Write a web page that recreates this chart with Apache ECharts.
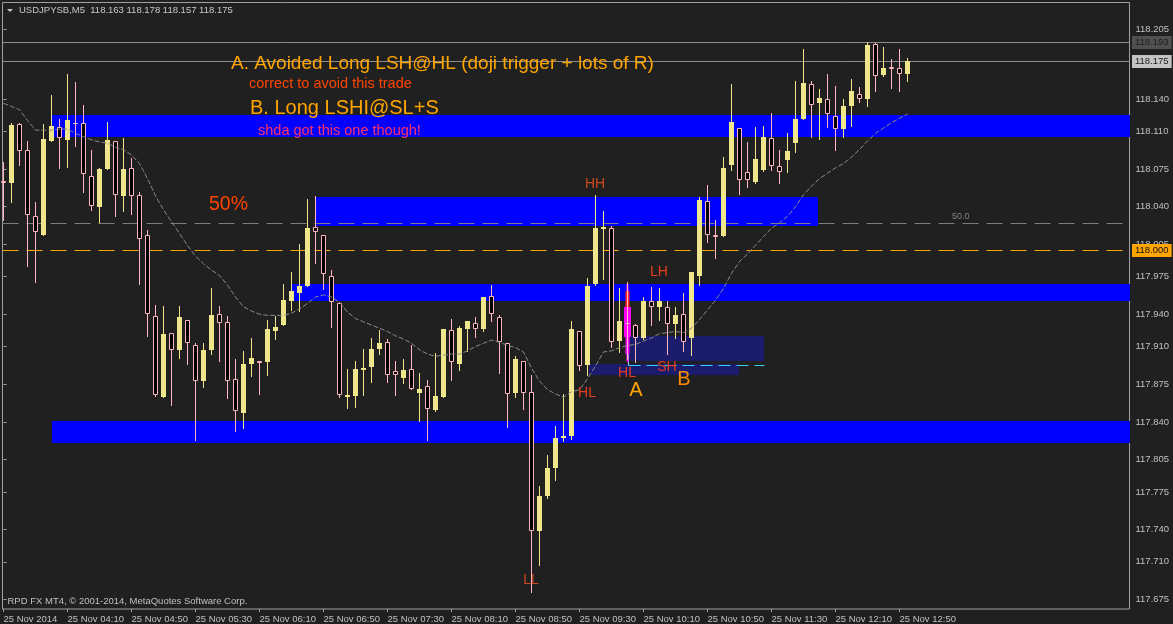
<!DOCTYPE html>
<html><head><meta charset="utf-8">
<script src="https://cdn.jsdelivr.net/npm/echarts@6/dist/echarts.min.js"></script>
<style>html,body{margin:0;padding:0;background:#202020;}#c{width:1173px;height:624px;}</style>
</head><body><div id="c"></div>
<script>
// ---------------- DATA ----------------
const symbolName = 'USDJPYSB,M5';
const copyright = 'RPD FX MT4, \u00a9 2001-2014, MetaQuotes Software Corp.';
// x tick positions (bar index) and their labels
const xTickBars = [0, 8, 16, 24, 32, 40, 48, 56, 64, 72, 80, 88, 96, 104, 112];
const timeLabels = ['25 Nov 2014', '25 Nov 04:10', '25 Nov 04:50', '25 Nov 05:30', '25 Nov 06:10',
  '25 Nov 06:50', '25 Nov 07:30', '25 Nov 08:10', '25 Nov 08:50', '25 Nov 09:30', '25 Nov 10:10',
  '25 Nov 10:50', '25 Nov 11:30', '25 Nov 12:10', '25 Nov 12:50'];
const yTicks = [117.675, 117.710, 117.740, 117.775, 117.805, 117.840, 117.875, 117.910, 117.940,
  117.975, 118.005, 118.040, 118.075, 118.110, 118.140, 118.175, 118.205];
// candles: [open, close, low, high], one per 5-minute bar
const ohlc = [
  [118.064,118.062,118.028,118.081],[118.062,118.116,118.044,118.118],[118.117,118.092,118.079,118.118],
  [118.093,118.032,117.985,118.101],[118.031,118.016,117.970,118.044],[118.014,118.103,118.014,118.117],
  [118.101,118.115,118.101,118.144],[118.114,118.104,118.076,118.121],[118.102,118.120,118.077,118.163],
  [118.118,118.117,118.096,118.156],[118.118,118.070,118.054,118.134],[118.068,118.041,118.037,118.093],
  [118.040,118.075,118.026,118.076],[118.075,118.102,118.075,118.119],[118.101,118.051,118.031,118.101],
  [118.050,118.075,118.036,118.104],[118.076,118.050,118.033,118.085],[118.051,118.010,117.968,118.054],
  [118.014,117.940,117.920,118.018],[117.938,117.865,117.864,117.949],[117.863,117.922,117.863,117.948],
  [117.923,117.907,117.856,117.923],[117.907,117.937,117.899,117.948],[117.935,117.913,117.894,117.935],
  [117.911,117.878,117.823,117.913],[117.878,117.907,117.872,117.913],[117.907,117.939,117.903,117.964],
  [117.940,117.932,117.897,117.948],[117.933,117.878,117.862,117.938],[117.880,117.850,117.832,117.898],
  [117.848,117.894,117.834,117.906],[117.894,117.899,117.883,117.918],[117.897,117.895,117.866,117.897],
  [117.896,117.926,117.884,117.935],[117.924,117.928,117.917,117.938],[117.930,117.953,117.930,117.968],
  [117.952,117.962,117.944,117.979],[117.960,117.966,117.943,118.005],[117.966,118.020,117.966,118.047],
  [118.021,118.016,117.988,118.050],[118.014,117.977,117.963,118.014],[117.976,117.951,117.928,117.981],
  [117.950,117.865,117.863,117.951],[117.863,117.865,117.853,117.889],[117.864,117.889,117.854,117.897],
  [117.888,117.890,117.865,117.908],[117.891,117.908,117.877,117.918],[117.908,117.913,117.903,117.925],
  [117.914,117.884,117.877,117.917],[117.887,117.884,117.865,117.897],[117.881,117.888,117.876,117.898],
  [117.889,117.871,117.871,117.911],[117.867,117.871,117.841,117.885],[117.873,117.852,117.823,117.879],
  [117.851,117.864,117.850,117.904],[117.863,117.926,117.863,117.926],[117.925,117.896,117.879,117.936],
  [117.894,117.927,117.888,117.929],[117.926,117.934,117.906,117.934],[117.932,117.926,117.919,117.937],
  [117.926,117.956,117.924,117.956],[117.957,117.940,117.934,117.967],[117.937,117.914,117.885,117.939],
  [117.913,117.866,117.835,117.913],[117.867,117.898,117.863,117.901],[117.897,117.867,117.852,117.897],
  [117.868,117.739,117.682,117.884],[117.739,117.771,117.707,117.780],[117.771,117.797,117.769,117.809],
  [117.797,117.825,117.786,117.836],[117.825,117.827,117.822,117.866],[117.827,117.926,117.824,117.934],
  [117.924,117.892,117.888,117.924],[117.893,117.966,117.884,117.974],[117.968,118.020,117.967,118.051],
  [118.019,118.021,117.973,118.036],[118.020,117.914,117.910,118.022],[117.915,117.934,117.905,117.964],
  [117.932,117.931,117.898,117.970],[117.930,117.918,117.896,117.931],[117.918,117.952,117.917,117.956],
  [117.952,117.947,117.930,117.965],[117.947,117.952,117.935,117.964],[117.947,117.931,117.903,117.952],
  [117.931,117.939,117.918,117.947],[117.940,117.914,117.906,117.960],[117.918,117.979,117.902,117.979],
  [117.976,118.046,117.967,118.049],[118.045,118.014,118.007,118.060],[118.014,118.012,117.992,118.028],
  [118.013,118.076,118.013,118.086],[118.079,118.119,118.074,118.154],[118.113,118.065,118.052,118.113],
  [118.072,118.065,118.058,118.100],[118.063,118.084,118.062,118.114],[118.074,118.105,118.073,118.115],
  [118.104,118.078,118.074,118.127],[118.078,118.072,118.062,118.093],[118.083,118.092,118.072,118.108],
  [118.099,118.121,118.091,118.157],[118.121,118.155,118.121,118.186],[118.154,118.134,118.105,118.157],
  [118.136,118.141,118.103,118.149],[118.140,118.126,118.114,118.163],[118.124,118.112,118.093,118.152],
  [118.112,118.133,118.105,118.140],[118.133,118.147,118.115,118.159],[118.145,118.140,118.137,118.151],
  [118.140,118.190,118.133,118.193],[118.191,118.161,118.147,118.192],[118.162,118.169,118.161,118.188],
  [118.170,118.168,118.150,118.177],[118.169,118.163,118.147,118.186],[118.163,118.175,118.157,118.178]
];
// moving average, one value per bar
const ma = [
  118.136,118.133,118.130,118.120,118.111,118.111,118.111,118.112,118.112,118.108,
  118.105,118.102,118.100,118.099,118.095,118.093,118.088,118.080,118.066,118.050,
  118.037,118.026,118.015,118.004,117.994,117.987,117.981,117.976,117.967,117.956,
  117.947,117.943,117.940,117.939,117.939,117.939,117.941,117.945,117.950,117.956,
  117.958,117.956,117.951,117.942,117.936,117.933,117.930,117.927,117.924,117.920,
  117.917,117.913,117.907,117.903,117.901,117.902,117.903,117.903,117.906,117.910,
  117.913,117.916,117.914,117.911,117.909,117.905,117.890,117.878,117.870,117.866,
  117.863,117.868,117.870,117.880,117.892,117.905,117.906,117.909,117.911,117.912,
  117.915,117.918,117.922,117.923,117.924,117.923,117.927,117.935,117.944,117.953,
  117.964,117.978,117.989,117.996,118.004,118.012,118.020,118.025,118.031,118.040,
  118.051,118.059,118.066,118.071,118.076,118.080,118.086,118.093,118.101,118.108,
  118.113,118.118,118.122,118.126
];
// zones: [fromBar, toBar ('end' = right edge), priceTop, priceBottom, kind]
const zones = [
  [6, 'end', 118.125, 118.105, 'band'],
  [39, 101.8, 118.049, 118.022, 'band'],
  [36, 'end', 117.968, 117.952, 'band'],
  [6, 'end', 117.8405, 117.820, 'band'],
  [78, 95, 117.920, 117.897, 'box'],
  [73.2, 91.9, 117.894, 117.884, 'box']
];
// level lines across the chart: [price, kind]
const levels = [[118.025, 'fib'], [118.000, 'round'], [118.193, 'high'], [118.175, 'bid']];
// trend segments: [bar1, price1, bar2, price2]
const segments = [[78, 117.893, 95, 117.893], [78, 117.920, 78, 117.893]];
// doji trigger highlight on bar 78: [bar, priceTop, priceBottom, part]
const highlight = [[78, 117.968, 117.896, 'thin'], [78, 117.962, 117.947, 'red'], [78, 117.947, 117.919, 'wide'], [78, 117.919, 117.903, 'mid']];
// price tags on the right axis
const priceTags = [[118.193, 'high'], [118.175, 'bid'], [118.000, 'round']];
// annotations: text and anchor [bar, price]
const annotationText = ['A. Avoided Long LSH@HL (doji trigger + lots of R)', 'correct to avoid this trade',
  'B. Long LSHI@SL+S', 'shda got this one though!', '50%', 'HH', 'LL', 'HL', 'HL', 'LH', 'SH', 'A', 'B', '50.0'];
const annotationAnchor = [[28.44, 118.1728], [30.73, 118.1538], [30.81, 118.1319], [31.77, 118.1102],
  [25.69, 118.0416], [73.94, 118.0607], [65.9, 117.693], [72.94, 117.8667], [77.94, 117.8852],
  [81.94, 117.9794], [82.94, 117.8908], [79.0, 117.8694], [85.0, 117.8801], [118.6, 118.0304]];

// ---------------- STYLE ----------------
const FONT = '"Liberation Sans", Arial, sans-serif';
const X_MIN = -0.125, X_MAX = 140.75;
const Y_MIN = 117.6662, Y_MAX = 118.2296;
const BULL = '#F0E68C', BEAR = '#FFB6C1';
const zoneFill = { band: '#0000FF', box: '#1c1c6c' };
const levelStyle = {
  fib: { stroke: '#7c7c7c', dash: [16, 8] },
  round: { stroke: '#FFA500', dash: [16, 8] },
  high: { stroke: '#8c8c8c', dash: null },
  bid: { stroke: '#8c8c8c', dash: null }
};
const segStyle = [{ stroke: '#38d0ec', dash: [12, 6] }, { stroke: '#90d8e8', dash: null }];
const hlStyle = { thin: ['#FF00FF', 2], red: ['#FF2424', 4], wide: ['#FF00FF', 7], mid: ['#FF00FF', 4] };
const tagStyle = {
  high: { bg: '#505050', fg: '#1c1c1c' },
  bid: { bg: '#c4c4c4', fg: '#202020' },
  round: { bg: '#FFA500', fg: '#101010' }
};
const annotationStyle = [
  ['#FFA500', 19, 'left'], ['#FF4500', 14.5, 'left'], ['#FFA500', 20, 'left'], ['#FF3366', 14.5, 'left'],
  ['#FF4500', 19.5, 'left'], ['#CC4A1C', 14, 'center'], ['#CC4A1C', 14, 'center'], ['#E83C1A', 14, 'center'],
  ['#E83C1A', 14, 'center'], ['#E83C1A', 14, 'center'], ['#E83C1A', 14, 'center'], ['#FFA500', 20, 'center'],
  ['#FF8C00', 20, 'center'], ['#808080', 9, 'left']
];

const chart = echarts.init(document.getElementById('c'), null, { renderer: 'canvas' });

function renderZone(params, api) {
  const z = zones[params.dataIndex];
  const x1v = z[1] === 'end' ? X_MAX : z[1];
  const p0 = api.coord([z[0], z[2]]);
  const p1 = api.coord([x1v, z[3]]);
  const x = Math.round(p0[0]), y = Math.round(p0[1]);
  return { type: 'rect', shape: { x: x, y: y, width: Math.round(p1[0]) - x, height: Math.round(p1[1]) - y },
    style: { fill: zoneFill[z[4]] } };
}
function renderLevel(params, api) {
  const l = levels[params.dataIndex];
  const a = api.coord([X_MIN, l[0]]), b = api.coord([X_MAX, l[0]]);
  const y = Math.round(a[1]) + 0.5;
  const st = levelStyle[l[1]];
  return { type: 'line', shape: { x1: a[0], y1: y, x2: b[0], y2: y },
    style: { stroke: st.stroke, lineWidth: 1, lineDash: st.dash } };
}
function renderSegment(params, api) {
  const s = segments[params.dataIndex];
  const a = api.coord([s[0], s[1]]), b = api.coord([s[2], s[3]]);
  const st = segStyle[params.dataIndex];
  return { type: 'line', shape: { x1: Math.round(a[0]) + 0.5, y1: Math.round(a[1]) + 0.5, x2: Math.round(b[0]) + 0.5, y2: Math.round(b[1]) + 0.5 },
    style: { stroke: st.stroke, lineWidth: 1, lineDash: st.dash } };
}
function renderHighlight(params, api) {
  const h = highlight[params.dataIndex];
  const a = api.coord([h[0], h[1]]), b = api.coord([h[0], h[2]]);
  const st = hlStyle[h[3]];
  const cx = Math.floor(a[0]) + 0.5;
  return { type: 'rect', shape: { x: cx - st[1] / 2, y: Math.round(a[1]), width: st[1], height: Math.round(b[1]) - Math.round(a[1]) },
    style: { fill: st[0] } };
}
function renderCandle(params, api) {
  const k = api.value(0), o = api.value(1), c = api.value(2), l = api.value(3), h = api.value(4);
  const pO = api.coord([k, o]), pC = api.coord([k, c]), pL = api.coord([k, l]), pH = api.coord([k, h]);
  const cx = Math.floor(pO[0]) + 0.5;
  const bull = c > o;
  const col = bull ? BULL : BEAR;
  const top = Math.round(Math.min(pO[1], pC[1])), bot = Math.round(Math.max(pO[1], pC[1]));
  const children = [{ type: 'line', shape: { x1: cx, y1: Math.round(pH[1]), x2: cx, y2: Math.round(pL[1]) + 1 },
    style: { stroke: col, lineWidth: 1 } }];
  if (bull) {
    children.push({ type: 'rect', shape: { x: cx - 2.5, y: top, width: 5, height: Math.max(bot - top, 1) }, style: { fill: col } });
  } else {
    children.push({ type: 'rect', shape: { x: cx - 2, y: top + 0.5, width: 4, height: Math.max(bot - top - 1, 0) },
      style: { fill: '#000000', stroke: col, lineWidth: 1 } });
  }
  return { type: 'group', children: children };
}
function renderAnnotation(params, api) {
  const i = params.dataIndex;
  const p = api.coord(annotationAnchor[i]);
  const st = annotationStyle[i];
  return { type: 'text', x: Math.round(p[0]), y: Math.round(p[1]),
    style: { text: annotationText[i], fill: st[0], fontSize: st[1], fontFamily: FONT, align: st[2], verticalAlign: 'middle' } };
}
function renderTag(params, api) {
  const t = priceTags[params.dataIndex];
  const p = api.coord([X_MAX, t[0]]);
  const st = tagStyle[t[1]];
  return { type: 'text', x: p[0] + 2.5, y: Math.round(p[1]) + 0.5,
    style: { text: t[0].toFixed(3), fill: st.fg, backgroundColor: st.bg, padding: [2, 3, 1, 3],
      fontSize: 9.5, fontFamily: FONT, align: 'left', verticalAlign: 'middle' } };
}

const last = ohlc[ohlc.length - 1];
const header = symbolName + '  ' + [last[0], last[3], last[2], last[1]].map(v => v.toFixed(3)).join(' ');
const AX = '#a0a0a0', TXT = '#c0c0c0';

chart.setOption({
  backgroundColor: '#202020',
  animation: false,
  grid: { left: 2.5, top: 2.5, width: 1127, height: 607, show: true, borderColor: AX, borderWidth: 1, backgroundColor: 'transparent' },
  xAxis: {
    type: 'value', min: X_MIN, max: X_MAX,
    splitLine: { show: false }, axisLine: { show: false },
    axisTick: { show: true, length: 3, customValues: xTickBars, lineStyle: { color: AX } },
    axisLabel: { customValues: xTickBars, formatter: v => timeLabels[xTickBars.indexOf(Math.round(v))] || '',
      align: 'left', color: TXT, fontSize: 9.5, fontFamily: FONT, margin: 5, hideOverlap: false }
  },
  yAxis: {
    type: 'value', position: 'right', min: Y_MIN, max: Y_MAX, scale: true,
    splitLine: { show: false }, axisLine: { show: false },
    axisTick: { show: true, length: 3, customValues: yTicks, lineStyle: { color: AX } },
    axisLabel: { customValues: yTicks, formatter: v => v.toFixed(3), color: TXT, fontSize: 9.5, fontFamily: FONT, margin: 6, hideOverlap: false }
  },
  graphic: [
    { type: 'polygon', shape: { points: [[7, 9], [13, 9], [10, 12]] }, style: { fill: '#c8c8c8' }, z: 100 },
    { type: 'text', left: 19, top: 5, style: { text: header, fill: '#c8c8c8', font: '9.5px ' + FONT }, z: 100 },
    { type: 'text', left: 7.5, top: 596.5, style: { text: copyright, fill: '#c0c0c0', font: '9.5px ' + FONT }, z: 100 }
  ],
  series: [
    { type: 'custom', z: 1, silent: true, data: zones.map((z, i) => [i]), renderItem: renderZone },
    { type: 'custom', z: 2, silent: true, data: levels.map((l, i) => [i]), renderItem: renderLevel },
    { type: 'custom', z: 2, silent: true, data: segments.map((s, i) => [i]), renderItem: renderSegment },
    { type: 'custom', z: 2, silent: true, data: highlight.map((h, i) => [i]), renderItem: renderHighlight },
    { type: 'custom', z: 3, silent: true, data: ohlc.map((d, i) => [i, d[0], d[1], d[2], d[3]]),
      encode: { x: 0, y: [1, 2, 3, 4] }, renderItem: renderCandle },
    { type: 'line', z: 4, silent: true, data: ma.map((v, i) => [i, v]), symbol: 'none', showSymbol: false,
      lineStyle: { color: '#8a8a8a', width: 1, type: [5, 2] } },
    { type: 'custom', z: 6, silent: true, data: annotationText.map((t, i) => [i]), renderItem: renderAnnotation },
    { type: 'custom', z: 8, silent: true, clip: false, data: priceTags.map((t, i) => [i]), renderItem: renderTag }
  ]
});
</script></body></html>
